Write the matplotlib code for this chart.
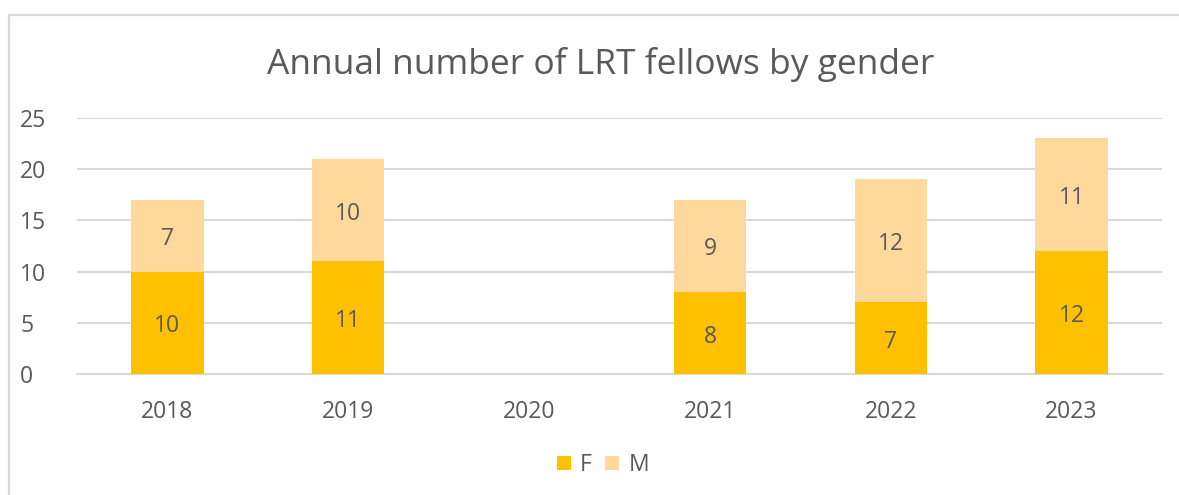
import matplotlib.pyplot as plt
from matplotlib.patches import Rectangle
from matplotlib.transforms import offset_copy
import numpy as np

years = ["2018", "2019", "2020", "2021", "2022", "2023"]
female = [10, 11, 0, 8, 7, 12]
male = [7, 10, 0, 9, 12, 11]

F_COLOR = "#FFC000"
M_COLOR = "#FFD89B"
TEXT = "#595959"
GRID = "#D9D9D9"

plt.rcParams["font.family"] = ["Open Sans", "DejaVu Sans"]

fig = plt.figure(figsize=(11.79, 4.95), dpi=100)
W, H = 1179, 495

# chart area border (light grey frame, cut off at right/bottom)
fig.patches.append(Rectangle((9 / W, 0 - 0.01), 1.2, 1 - 15 / H + 0.01,
                             transform=fig.transFigure, fill=False,
                             edgecolor=GRID, linewidth=1.6, zorder=0))

ax = fig.add_axes([77 / W, 1 - 374 / H, (1162 - 77) / W, (374 - 118) / H])

x = np.arange(len(years))
width = 0.40
bf = ax.bar(x, female, width, color=F_COLOR, label="F", zorder=3)
bm = ax.bar(x, male, width, bottom=female, color=M_COLOR, label="M", zorder=3)

# labels sit a touch below the segment centre, like Excel
label_tr = offset_copy(ax.transData, fig=fig, x=0, y=-2.5, units="points")
for i in range(len(years)):
    if female[i] > 0:
        ax.text(x[i], female[i] / 2, str(female[i]), ha="center", va="center",
                fontsize=16.5, color=TEXT, zorder=4, transform=label_tr)
    if male[i] > 0:
        ax.text(x[i], female[i] + male[i] / 2, str(male[i]), ha="center", va="center",
                fontsize=16.5, color=TEXT, zorder=4, transform=label_tr)

ax.set_xlim(-0.5, len(years) - 0.5)
ax.set_ylim(0, 25)
ax.set_yticks(range(0, 26, 5))
ax.set_xticks(x)
ax.set_xticklabels(years)
ax.yaxis.grid(True, color=GRID, linewidth=1.5, zorder=0)
ax.set_axisbelow(True)
for side in ["top", "right", "left"]:
    ax.spines[side].set_visible(False)
ax.spines["bottom"].set_color(GRID)
ax.spines["bottom"].set_linewidth(1.5)
ax.tick_params(axis="both", length=0, labelsize=16.5, colors=TEXT)
ax.tick_params(axis="x", pad=19)
ax.tick_params(axis="y", pad=41)
for lab in ax.get_yticklabels():
    lab.set_horizontalalignment("left")

fig.text(601 / W, 1 - 64 / H, "Annual number of LRT fellows by gender",
         ha="center", va="center", fontsize=25.5, color=TEXT)

fig.legend(handles=[bf, bm], labels=["F", "M"], loc="center",
           bbox_to_anchor=(603 / W, 1 - 465 / H), ncol=2, frameon=False,
           fontsize=16.5, labelcolor=TEXT, handlelength=0.6, handleheight=0.6,
           handletextpad=0.4, columnspacing=0.6)

fig.savefig("out.png", dpi=100)
